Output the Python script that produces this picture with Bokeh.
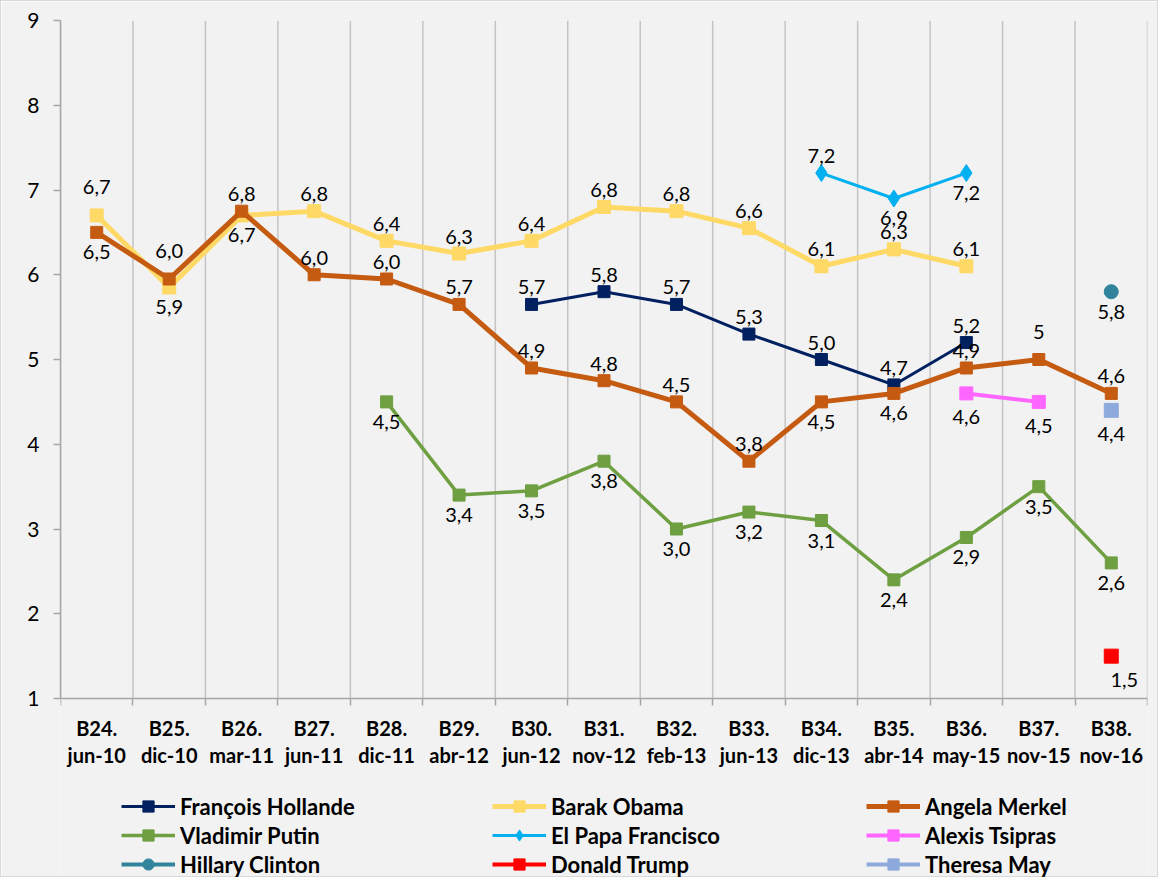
import numpy as np
from bokeh.plotting import figure
from bokeh.models import FixedTicker, Legend, LegendItem, ColumnDataSource, Range1d
from bokeh.core.properties import value
from bokeh.embed import file_html
from bokeh.resources import INLINE

# ---------------- data ----------------
categories = ["B24. jun-10", "B25. dic-10", "B26. mar-11", "B27. jun-11", "B28. dic-11",
              "B29. abr-12", "B30. jun-12", "B31. nov-12", "B32. feb-13", "B33. jun-13",
              "B34. dic-13", "B35. abr-14", "B36. may-15", "B37. nov-15", "B38. nov-16"]
tick_labels = [c.replace(" ", "\n") for c in categories]
y_ticks = [1, 2, 3, 4, 5, 6, 7, 8, 9]

N = None
hollande = [N, N, N, N, N, N, 5.65, 5.8, 5.65, 5.3, 5.0, 4.7, 5.2, N, N]
hollande_lbl = [N, N, N, N, N, N, "5,7", "5,8", "5,7", "5,3", "5,0", "4,7", "5,2", N, N]

obama = [6.7, 5.85, 6.7, 6.75, 6.4, 6.25, 6.4, 6.8, 6.75, 6.55, 6.1, 6.3, 6.1, N, N]
obama_lbl = ["6,7", "5,9", "6,7", "6,8", "6,4", "6,3", "6,4", "6,8", "6,8", "6,6", "6,1", "6,3", "6,1", N, N]

merkel = [6.5, 5.95, 6.75, 6.0, 5.95, 5.65, 4.9, 4.75, 4.5, 3.8, 4.5, 4.6, 4.9, 5.0, 4.6]
merkel_lbl = ["6,5", "6,0", "6,8", "6,0", "6,0", "5,7", "4,9", "4,8", "4,5", "3,8", "4,5", "4,6", "4,9", "5", "4,6"]

putin = [N, N, N, N, 4.5, 3.4, 3.45, 3.8, 3.0, 3.2, 3.1, 2.4, 2.9, 3.5, 2.6]
putin_lbl = [N, N, N, N, "4,5", "3,4", "3,5", "3,8", "3,0", "3,2", "3,1", "2,4", "2,9", "3,5", "2,6"]

papa = [N, N, N, N, N, N, N, N, N, N, 7.2, 6.9, 7.2, N, N]
papa_lbl = [N, N, N, N, N, N, N, N, N, N, "7,2", "6,9", "7,2", N, N]

tsipras = [N, N, N, N, N, N, N, N, N, N, N, N, 4.6, 4.5, N]
tsipras_lbl = [N, N, N, N, N, N, N, N, N, N, N, N, "4,6", "4,5", N]

clinton = [N] * 14 + [5.8]
clinton_lbl = [N] * 14 + ["5,8"]
trump = [N] * 14 + [1.5]
trump_lbl = [N] * 14 + ["1,5"]
may = [N] * 14 + [4.4]
may_lbl = [N] * 14 + ["4,4"]

# label placement: a = above, b = below, A = far above, B = far below
obama_pos = ["A", "b", "b", "a", "a", "a", "a", "a", "a", "a", "a", "a", "a", N, N]
merkel_pos = ["b", "A", "a", "a", "a", "a", "a", "a", "a", "a", "b", "b", "a", "A", "a"]
OFFS = {"a": -17, "A": -28, "b": 20, "B": 24}

FONT = "Lato"
W, H = 1158, 877
ML, MT, MR, MB = 59, 19, 12, 0
PX_PER_UNIT = (H - MT - MB - 180) / 8.0
y_start = 1 - 180 / PX_PER_UNIT

p = figure(width=W, height=H, output_backend="svg", toolbar_location=None,
           x_range=Range1d(0, 15), y_range=Range1d(y_start, 9),
           min_border_left=ML, min_border_right=MR, min_border_top=MT, min_border_bottom=MB,
           background_fill_color="#f2f2f2", border_fill_color="#f2f2f2")
p.outline_line_color = None
p.styles = {"border": "1px solid #d9d9d9"}

# grid: vertical lines at category boundaries, only over the value range
p.xgrid.grid_line_color = None
p.ygrid.grid_line_color = None
bnd = list(range(len(categories) + 1))
p.segment(x0=bnd, y0=[y_ticks[0]] * len(bnd), x1=bnd, y1=[y_ticks[-1]] * len(bnd),
          line_color="#c4c4c4", line_width=1.5)

# x axis
xa = p.xaxis[0]
xa.fixed_location = 1
xa.ticker = FixedTicker(ticks=[i + 0.5 for i in range(15)], minor_ticks=bnd)
xa.major_label_overrides = {i + 0.5: tick_labels[i] for i in range(15)}
xa.major_tick_out = 0
xa.major_tick_in = 0
xa.minor_tick_out = 7
xa.minor_tick_in = 0
xa.minor_tick_line_color = "#a6a6a6"
xa.minor_tick_line_width = 1.5
xa.axis_line_color = "#a6a6a6"
xa.axis_line_width = 1.5
xa.major_label_text_font = FONT
xa.major_label_text_font_style = "bold"
xa.major_label_text_font_size = "20px"
xa.major_label_text_color = "#000000"
xa.major_label_text_line_height = 1.15
xa.major_label_standoff = 10

# y axis
ya = p.yaxis[0]
ya.bounds = (1, 9)
ya.ticker = FixedTicker(ticks=y_ticks)
ya.minor_tick_line_color = None
ya.major_tick_out = 7
ya.major_tick_in = 0
ya.major_tick_line_color = "#a6a6a6"
ya.major_tick_line_width = 1.5
ya.axis_line_color = "#a6a6a6"
ya.axis_line_width = 1.5
ya.major_label_text_font = FONT
ya.major_label_text_font_size = "21px"
ya.major_label_text_color = "#000000"
ya.major_label_standoff = 14

xs = [i + 0.5 for i in range(len(categories))]


def clean(vals):
    return [np.nan if v is None else v for v in vals]


def add_series(vals, lbls, color, lw, marker, msize, pos=None, default_pos="a",
               draw_line=True, dx=0):
    y = clean(vals)
    renderers = []
    if draw_line:
        renderers.append(p.line(xs, y, line_color=color, line_width=lw))
    renderers.append(p.scatter(xs, y, marker=marker, size=msize, fill_color=color,
                               line_color=color, line_width=1))
    tx, ty, tt, dy = [], [], [], []
    for i, v in enumerate(vals):
        if v is None:
            continue
        ps = default_pos if pos is None else pos[i]
        tx.append(xs[i])
        ty.append(v)
        tt.append(lbls[i])
        dy.append(OFFS[ps])
    src = ColumnDataSource(dict(x=tx, y=ty, t=tt, dy=dy))
    p.text("x", "y", text="t", source=src, y_offset="dy", x_offset=dx,
           text_font=value(FONT), text_font_size="20px", text_color="#000000",
           text_align="center", text_baseline="middle")
    return renderers


r_hol = add_series(hollande, hollande_lbl, "#002060", 3, "square", 12)
r_oba = add_series(obama, obama_lbl, "#ffd966", 5, "square", 13, pos=obama_pos)
r_mer = add_series(merkel, merkel_lbl, "#c55a11", 5, "square", 12, pos=merkel_pos)
r_put = add_series(putin, putin_lbl, "#6e9f40", 3.5, "square", 12, default_pos="b")
r_pap = add_series(papa, papa_lbl, "#00b0f0", 3, "diamond", 17,
                   pos=[N] * 10 + ["a", "b", "b", N, N])
r_tsi = add_series(tsipras, tsipras_lbl, "#ff66ff", 4, "square", 13, default_pos="B")
r_cli = add_series(clinton, clinton_lbl, "#31849b", 3, "circle", 14, default_pos="b")
r_tru = add_series(trump, trump_lbl, "#ff0000", 3, "square", 14, default_pos="B", dx=13)
r_may = add_series(may, may_lbl, "#8ea9db", 3, "square", 14, default_pos="B")


# legend renderers (line + marker) for the single-point series
def legend_proxy(color, lw, marker, msize):
    l = p.line([np.nan], [np.nan], line_color=color, line_width=lw)
    s = p.scatter([np.nan], [np.nan], marker=marker, size=msize, fill_color=color,
                  line_color=color)
    return [l, s]


leg_cli = legend_proxy("#31849b", 4, "circle", 14)
leg_tru = legend_proxy("#ff0000", 4, "square", 14)
leg_may = legend_proxy("#8ea9db", 4, "square", 14)

columns = [
    [("François Hollande", r_hol), ("Vladimir Putin", r_put), ("Hillary Clinton", leg_cli)],
    [("Barak Obama", r_oba), ("El Papa Francisco", r_pap), ("Donald Trump", leg_tru)],
    [("Angela Merkel", r_mer), ("Alexis Tsipras", r_tsi), ("Theresa May", leg_may)],
]
col_x = [61, 432, 806]
for cx, col in zip(col_x, columns):
    leg = Legend(items=[LegendItem(label=n, renderers=r) for n, r in col],
                 location=(cx, 0), orientation="vertical",
                 glyph_width=54, glyph_height=28, label_height=20, spacing=1,
                 label_standoff=5, padding=0, margin=0,
                 label_text_font=FONT, label_text_font_style="bold",
                 label_text_font_size="22px", label_text_color="#000000",
                 background_fill_alpha=0, border_line_color=None)
    p.add_layout(leg, "center")

open("out.html", "w").write(file_html(p, INLINE))
